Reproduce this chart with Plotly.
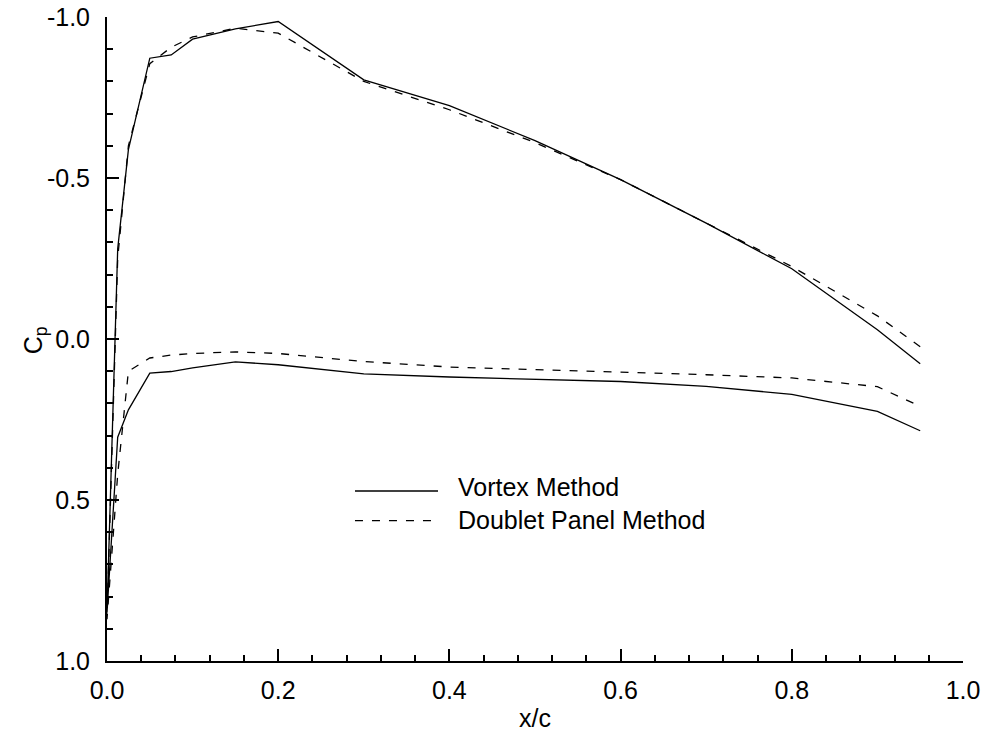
import plotly.graph_objects as go

# x/c stations
x_pts = [0.0, 0.0125, 0.025, 0.05, 0.075, 0.1, 0.15, 0.2, 0.3, 0.4, 0.5, 0.6, 0.7, 0.8, 0.9, 0.95]

# Vortex Method Cp (upper / lower surface)
vortex_upper = [0.85, -0.28, -0.588, -0.872, -0.882, -0.931, -0.963, -0.986, -0.805, -0.725,
                -0.616, -0.495, -0.360, -0.218, -0.029, 0.077]
vortex_lower = [0.85, 0.305, 0.22, 0.106, 0.101, 0.090, 0.071, 0.080, 0.108, 0.118,
                0.125, 0.132, 0.147, 0.172, 0.225, 0.285]

# Doublet Panel Method Cp (upper / lower surface)
doublet_upper = [0.87, -0.25, -0.60, -0.855, -0.906, -0.938, -0.965, -0.950, -0.800, -0.712,
                 -0.610, -0.495, -0.360, -0.225, -0.072, 0.024]
doublet_lower = [0.87, 0.42, 0.10, 0.059, 0.050, 0.045, 0.040, 0.045, 0.070, 0.087,
                 0.095, 0.102, 0.111, 0.121, 0.148, 0.209]

x_ticks = [0.0, 0.2, 0.4, 0.6, 0.8, 1.0]
x_tick_labels = ["0.0", "0.2", "0.4", "0.6", "0.8", "1.0"]
y_ticks = [-1.0, -0.5, 0.0, 0.5, 1.0]
y_tick_labels = ["-1.0", "-0.5", "0.0", "0.5", "1.0"]

FONT = "Liberation Sans, Arial, sans-serif"
FS = 25

def loop(upper, lower):
    xs = list(reversed(x_pts)) + x_pts[1:]
    ys = list(reversed(upper)) + lower[1:]
    return xs, ys

fig = go.Figure()
xv, yv = loop(vortex_upper, vortex_lower)
fig.add_trace(go.Scatter(x=xv, y=yv, mode="lines", name="Vortex Method",
                         line=dict(color="black", width=1.3), showlegend=False))
xd, yd = loop(doublet_upper, doublet_lower)
fig.add_trace(go.Scatter(x=xd, y=yd, mode="lines", name="Doublet Panel Method",
                         line=dict(color="black", width=1.3, dash="8px,9px"), showlegend=False))

# legend drawn manually
fig.add_shape(type="line", xref="paper", yref="paper", x0=0.2897, x1=0.3867, y0=0.264, y1=0.264,
              line=dict(color="black", width=1.3))
fig.add_shape(type="line", xref="paper", yref="paper", x0=0.2897, x1=0.3867, y0=0.218, y1=0.218,
              line=dict(color="black", width=1.3, dash="8px,9px"))
fig.add_annotation(xref="paper", yref="paper", x=0.4077, y=0.270, text="Vortex Method",
                   showarrow=False, xanchor="left", yanchor="middle", font=dict(size=FS))
fig.add_annotation(xref="paper", yref="paper", x=0.4077, y=0.219, text="Doublet Panel Method",
                   showarrow=False, xanchor="left", yanchor="middle", font=dict(size=FS))

# axis titles
fig.add_annotation(xref="paper", yref="paper", x=0.5, y=-0.0885, text="x/c",
                   showarrow=False, xanchor="center", yanchor="middle", font=dict(size=FS))
fig.add_annotation(xref="paper", yref="paper", x=-0.0841, y=0.498, text="C<sub>p</sub>",
                   showarrow=False, xanchor="center", yanchor="middle", textangle=-90,
                   font=dict(size=FS))

axis_common = dict(showgrid=False, zeroline=False, showline=True, linecolor="black", linewidth=2,
                   ticks="inside", ticklen=12, tickwidth=2, tickcolor="black", automargin=False,
                   tickfont=dict(size=FS, color="black"))

fig.update_xaxes(range=[0, 1], tickvals=x_ticks, ticktext=x_tick_labels, ticklabelstandoff=6,
                 minor=dict(dtick=0.04, tick0=0, ticks="inside", ticklen=6, tickwidth=1.5,
                            tickcolor="black", showgrid=False),
                 **axis_common)
fig.update_yaxes(range=[1, -1], tickvals=y_ticks, ticktext=y_tick_labels, ticklabelstandoff=10,
                 minor=dict(dtick=0.1, tick0=0, ticks="inside", ticklen=6, tickwidth=1.5,
                            tickcolor="black", showgrid=False),
                 **axis_common)

fig.update_layout(width=983, height=734, margin=dict(l=107, r=20, t=17, b=73),
                  paper_bgcolor="white", plot_bgcolor="white",
                  font=dict(family=FONT, size=FS, color="black"))

fig.write_html("out.html")
